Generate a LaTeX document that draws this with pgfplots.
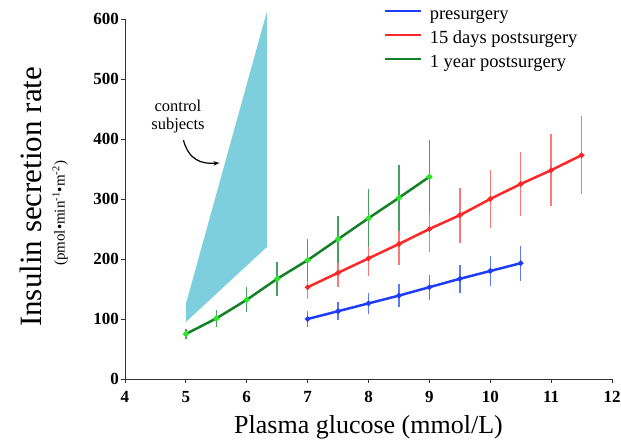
\documentclass[border=0pt]{standalone}
\usepackage{fontspec}
\setmainfont{Liberation Serif}
\usepackage{pgfplots}
\pgfplotsset{compat=1.18}
\usetikzlibrary{arrows.meta}
\definecolor{ctrl}{RGB}{126,207,221}
\definecolor{gline}{RGB}{22,128,40}
\definecolor{gmark}{RGB}{40,230,40}
\definecolor{gerr}{RGB}{70,160,95}
\definecolor{rline}{RGB}{250,40,40}
\definecolor{rerr}{RGB}{250,120,120}
\definecolor{bline}{RGB}{30,60,250}
\definecolor{berr}{RGB}{90,120,250}
\begin{document}
\begin{tikzpicture}
\useasboundingbox (-125pt,-60pt) rectangle (496pt,379pt);
\begin{axis}[
  scale only axis, width=487pt, height=360pt,
  xmin=4, xmax=12, ymin=0, ymax=600,
  axis lines=left, axis line style={-, line width=0.9pt, black!80},
  xtick={4,...,12}, ytick={0,100,...,600},
  tick style={black!80, line width=0.8pt}, tick align=outside, major tick length=3.5pt,
  ticklabel style={font=\fontsize{17}{19}\selectfont\bfseries},
  /pgf/number format/assume math mode=true,
  xticklabel style={yshift=-5pt},
  yticklabel style={xshift=1pt},
  clip=false,
  legend style={at={(0.53,1.036)}, anchor=north west, draw=none, fill=none,
    font=\fontsize{18.5}{20}\selectfont, row sep=6pt, inner sep=0pt,
    nodes={text height=13pt, text depth=5pt, inner sep=0pt},
    /tikz/every odd column/.append style={column sep=8pt}},
  legend cell align=left,
  legend image code/.code={\draw[#1, line width=2.5pt] (0pt,4pt) -- (36pt,4pt);},
]
\addplot[fill=ctrl, draw=none, forget plot] coordinates {(5,95) (5,125) (6.33,612) (6.33,220)} -- cycle;

\addplot[bline, line width=2.5pt, mark=*, mark size=1.3pt, mark options={fill=bline, draw=bline},
  error bars/.cd, y dir=both, y explicit, error mark=none,
  error bar style={berr, line width=1.4pt}]
  coordinates {
  (7,100) +- (0,13)
  (7.5,113) +- (0,15)
  (8,126) +- (0,17)
  (8.5,139) +- (0,19)
  (9,153) +- (0,21)
  (9.5,167) +- (0,23)
  (10,180) +- (0,25)
  (10.5,193) +- (0,29)
  };
\addlegendentry{presurgery}

\addplot[rline, line width=2.5pt, mark=*, mark size=1.3pt, mark options={fill=rline, draw=rline},
  error bars/.cd, y dir=both, y explicit, error mark=none,
  error bar style={rerr, line width=1.4pt}]
  coordinates {
  (7,153) +- (0,19)
  (7.5,177) +- (0,24)
  (8,201) +- (0,29)
  (8.5,225) +- (0,35)
  (9,250) +- (0,39)
  (9.5,273) +- (0,46)
  (10,300) +- (0,49)
  (10.5,325) +- (0,54)
  (11,348) +- (0,60)
  (11.5,373) +- (0,65)
  };
\addlegendentry{15 days postsurgery}

\addplot[gline, line width=2.5pt, mark=*, mark size=1.6pt, mark options={fill=gmark, draw=gmark},
  error bars/.cd, y dir=both, y explicit, error mark=none,
  error bar style={gerr, line width=1.4pt}]
  coordinates {
  (5,75) +- (0,9)
  (5.5,101) +- (0,14)
  (6,132) +- (0,21)
  (6.5,167) +- (0,28)
  (7,198) +- (0,35)
  (7.5,233) +- (0,39)
  (8,268) +- (0,48)
  (8.5,302) +- (0,55)
  (9,337) +- (0,62)
  };
\addlegendentry{1 year postsurgery}

\node[align=center, font=\fontsize{16.5}{18}\selectfont] at (axis cs:4.87,437) {control\\subjects};
\draw[line width=1.2pt, -{Stealth[length=6pt]}] (axis cs:4.96,398) .. controls (axis cs:5.05,365) and (axis cs:5.25,358) .. (axis cs:5.55,360);

\node[anchor=base, font=\fontsize{26}{28}\selectfont] at (axis description cs:0.5,-0.152) {Plasma glucose (mmol/L)};
\node[rotate=90, font=\fontsize{31}{33}\selectfont] at (axis description cs:-0.193,0.506) {Insulin secretion rate};
\node[rotate=90, font=\fontsize{15}{17}\selectfont] at (axis description cs:-0.133,0.46) {(pmol•min\textsuperscript{-1}•m\textsuperscript{-2})};
\end{axis}
\end{tikzpicture}
\end{document}
